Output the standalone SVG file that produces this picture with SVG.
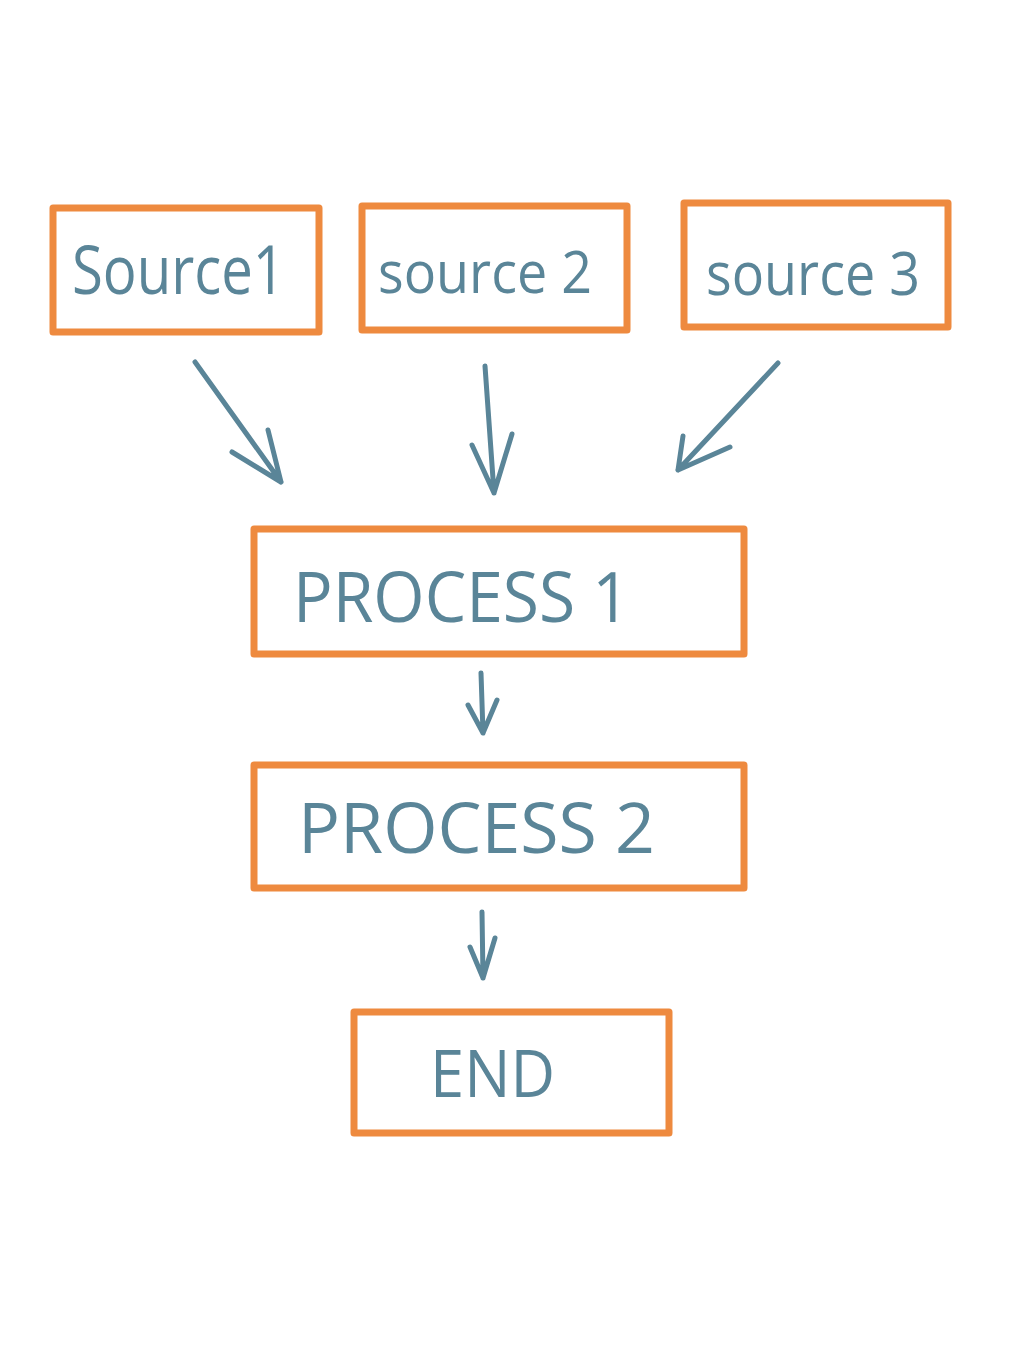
<svg xmlns="http://www.w3.org/2000/svg" width="1013" height="1350" viewBox="0 0 1013 1350">
<style>
.box{fill:#fff;stroke:#EE8A3F;stroke-width:7;stroke-linejoin:round}
.lbl{fill:#5A8598;font-family:"Open Sans","DejaVu Sans",sans-serif;font-weight:400}
.arr{fill:none;stroke:#5A8598;stroke-width:5;stroke-linecap:round;stroke-linejoin:round}
</style>
<rect width="1013" height="1350" fill="#fff"/>
<g id="source1"><rect class="box" x="53" y="208" width="266" height="124"/><text class="lbl" x="72" y="294" font-size="68" textLength="213" lengthAdjust="spacingAndGlyphs">Source1</text></g>
<g id="source2"><rect class="box" x="362" y="206" width="265" height="124"/><text class="lbl" x="378" y="293" font-size="58" textLength="214" lengthAdjust="spacingAndGlyphs">source 2</text></g>
<g id="source3"><rect class="box" x="684" y="203" width="264" height="124"/><text class="lbl" x="706" y="295" font-size="60" textLength="214" lengthAdjust="spacingAndGlyphs">source 3</text></g>
<g id="process1"><rect class="box" x="254" y="529" width="490" height="125"/><text class="lbl" x="293" y="622" font-size="70" textLength="337" lengthAdjust="spacingAndGlyphs">PROCESS  1</text></g>
<g id="process2"><rect class="box" x="254" y="765" width="490" height="123"/><text class="lbl" x="298" y="853" font-size="70" textLength="357" lengthAdjust="spacingAndGlyphs">PROCESS 2</text></g>
<g id="end"><rect class="box" x="354" y="1012" width="315" height="121"/><text class="lbl" x="430" y="1097" font-size="66" textLength="125" lengthAdjust="spacingAndGlyphs">END</text></g>
<g id="connectors">
<path class="arr" d="M195,362 L281,482 M232,452 L281,482 M268,430 L281,482"/>
<path class="arr" d="M485,366 L494,493 M472,445 L494,493 M512,434 L494,493"/>
<path class="arr" d="M778,363 L678,470 M683,436 L678,470 M730,447 L678,470"/>
<path class="arr" d="M481,673 L483,733 M468,705 L483,733 M497,700 L483,733"/>
<path class="arr" d="M482,912 L483,978 M470,947 L483,978 M495,938 L483,978"/>
</g>
</svg>
